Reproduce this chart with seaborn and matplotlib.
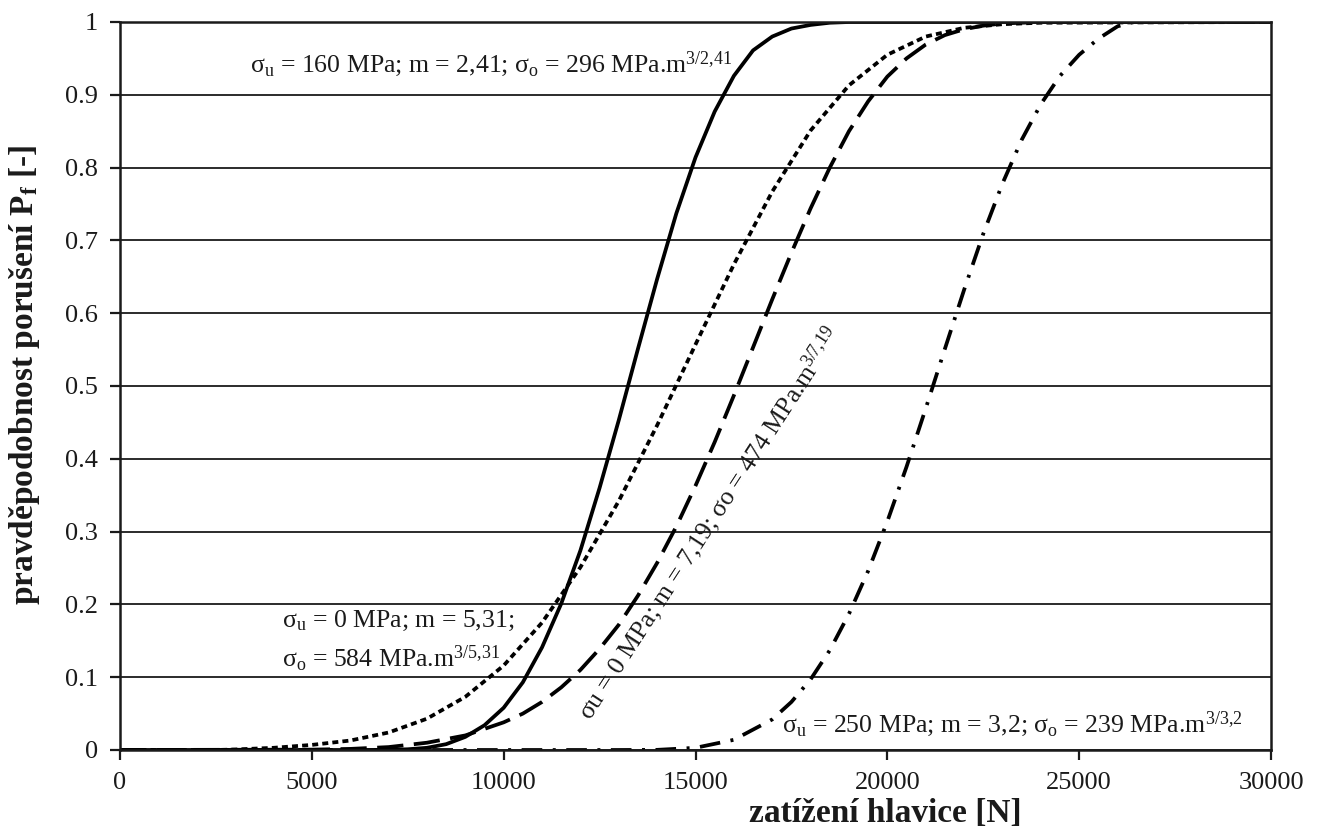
import numpy as np
import pandas as pd
import matplotlib
matplotlib.use("Agg")
import matplotlib.pyplot as plt
import seaborn as sns

# ---- data (force [N], failure probability [-]) ----
x_solid = [0, 6000, 7000, 7500, 8000, 8500, 9000, 9500, 10000, 10500, 11000, 11500,
           12000, 12500, 13000, 13500, 14000, 14500, 15000, 15500, 16000, 16500,
           17000, 17500, 18000, 18500, 19000, 30000]
p_solid = [0, 0.0, 0.0002, 0.001, 0.003, 0.008, 0.018, 0.034, 0.058, 0.093, 0.141, 0.201,
           0.274, 0.360, 0.453, 0.551, 0.647, 0.737, 0.814, 0.877, 0.926, 0.961,
           0.980, 0.991, 0.996, 0.999, 1.0, 1.0]

x_dot = [0, 2500, 3000, 4000, 5000, 6000, 7000, 8000, 9000, 10000, 11000, 12000, 13000,
         14000, 15000, 16000, 17000, 18000, 19000, 20000, 21000, 22000, 23000, 24000, 30000]
p_dot = [0, 0.0, 0.0007, 0.003, 0.007, 0.013, 0.024, 0.043, 0.073, 0.116, 0.175, 0.251, 0.342,
         0.446, 0.557, 0.667, 0.767, 0.851, 0.913, 0.955, 0.980, 0.992, 0.997, 0.999, 1.0]

x_dash = [0, 5000, 6000, 7000, 8000, 9000, 10000, 10500, 11000, 11500, 12000, 12500, 13000,
          13500, 14000, 14500, 15000, 15500, 16000, 16500, 17000, 17500, 18000, 18500,
          19000, 19500, 20000, 20500, 21000, 21500, 22000, 22500, 23000, 24000, 30000]
p_dash = [0, 0.0005, 0.0015, 0.004, 0.010, 0.020, 0.038, 0.050, 0.066, 0.086, 0.110, 0.139, 0.172,
          0.212, 0.257, 0.307, 0.363, 0.423, 0.487, 0.553, 0.619, 0.683, 0.744, 0.800,
          0.850, 0.891, 0.925, 0.950, 0.969, 0.982, 0.990, 0.995, 0.998, 1.0, 1.0]

x_dd = [0, 13000, 14000, 15000, 16000, 17000, 17500, 18000, 18500, 19000, 19500, 20000,
        20500, 21000, 21500, 22000, 22500, 23000, 23500, 24000, 24500, 25000, 25500,
        26000, 26400, 30000]
p_dd = [0, 0.0, 0.0002, 0.003, 0.014, 0.042, 0.066, 0.097, 0.137, 0.187, 0.246, 0.314,
        0.389, 0.469, 0.551, 0.632, 0.709, 0.778, 0.838, 0.887, 0.926, 0.955, 0.977,
        0.994, 1.0, 1.0]

curve_names = ["s160", "s0_531", "s0_719", "s250"]
y_ticks = [0, 0.1, 0.2, 0.3, 0.4, 0.5, 0.6, 0.7, 0.8, 0.9, 1]
y_ticklabels = ["0", "0.1", "0.2", "0.3", "0.4", "0.5", "0.6", "0.7", "0.8", "0.9", "1"]
x_ticks = [0, 5000, 10000, 15000, 20000, 25000, 30000]
x_ticklabels = ["0", "5000", "10000", "15000", "20000", "25000", "30000"]

frames = []
for name, xs, ps in zip(curve_names, [x_solid, x_dot, x_dash, x_dd],
                        [p_solid, p_dot, p_dash, p_dd]):
    frames.append(pd.DataFrame({"F": xs, "P": ps, "curve": name}))
df = pd.concat(frames, ignore_index=True)

sns.set_theme(style="white")
plt.rcParams["font.family"] = ["Liberation Serif", "DejaVu Serif"]
plt.rcParams["mathtext.fontset"] = "custom"
plt.rcParams["mathtext.rm"] = "Liberation Serif"
plt.rcParams["mathtext.it"] = "Liberation Serif:italic"
plt.rcParams["mathtext.bf"] = "Liberation Serif:bold"

fig = plt.figure(figsize=(13.17, 8.35), dpi=100)
ax = fig.add_axes([120 / 1317, 1 - 750 / 835, 1151 / 1317, 728 / 835])

dashes = {"s160": "", "s0_531": (1.6, 1.1), "s0_719": (7.0, 2.8), "s250": (5.5, 2.8, 0.8, 2.8)}
sns.lineplot(data=df, x="F", y="P", style="curve", dashes=dashes, color="black",
             linewidth=2.7, legend=False, ax=ax, sort=False)

ax.set_xlim(0, 30000)
ax.set_ylim(0, 1)
ax.set_xticks(x_ticks)
ax.set_xticklabels(x_ticklabels)
ax.set_yticks(y_ticks)
ax.set_yticklabels(y_ticklabels)
ax.yaxis.grid(True, color="#1a1a1a", linewidth=1.3)
ax.xaxis.grid(False)
ax.set_axisbelow(True)
for sp in ax.spines.values():
    sp.set_color("#1a1a1a")
    sp.set_linewidth(1.8)
ax.tick_params(axis="both", direction="out", length=7, width=1.6, color="#1a1a1a",
               labelsize=19, labelcolor="#1a1a1a", left=True, bottom=True, pad=9)

ax.set_xlabel("zatížení hlavice [N]", fontsize=24, fontweight="bold", color="#1a1a1a")
ax.set_ylabel(r"pravděpodobnost porušení P$_{\mathbf{f}}$ [-]", fontsize=24,
              fontweight="bold", color="#1a1a1a")
ax.xaxis.set_label_coords(0.665, -0.066)
ax.yaxis.set_label_coords(-0.068, 0.515)

fs = 18.5
tc = "#1a1a1a"
ax.text(3390, 0.931, r"σ$_{\mathrm{u}}$ = 160 MPa; m = 2,41; σ$_{\mathrm{o}}$ = 296 MPa.m$^{\mathrm{3/2{,}41}}$",
        fontsize=fs, color=tc, ha="left", va="baseline")
ax.text(4220, 0.169, r"σ$_{\mathrm{u}}$ = 0 MPa; m = 5,31;",
        fontsize=fs, color=tc, ha="left", va="baseline")
ax.text(4220, 0.114, r"σ$_{\mathrm{o}}$ = 584 MPa.m$^{\mathrm{3/5{,}31}}$",
        fontsize=fs, color=tc, ha="left", va="baseline")
ax.text(17250, 0.025, r"σ$_{\mathrm{u}}$ = 250 MPa; m = 3,2; σ$_{\mathrm{o}}$ = 239 MPa.m$^{\mathrm{3/3{,}2}}$",
        fontsize=fs, color=tc, ha="left", va="baseline")
ax.text(12250, 0.04, r"σu = 0 MPa; m = 7,19; σo = 474 MPa.m$^{\mathrm{3/7{,}19}}$",
        fontsize=fs, color=tc, ha="left", va="baseline", rotation=57,
        rotation_mode="anchor")

fig.savefig("out.png", dpi=100, facecolor="white")
